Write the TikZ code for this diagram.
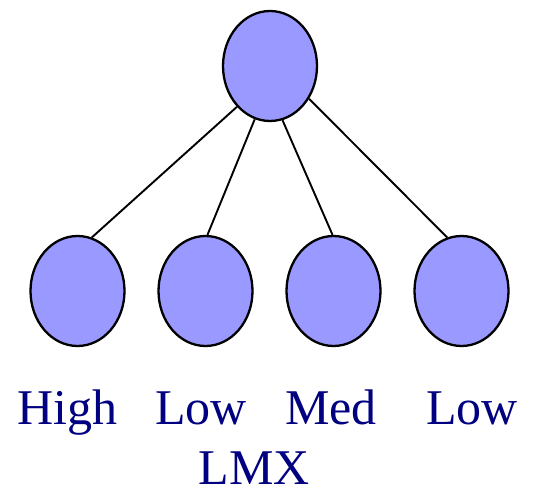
\documentclass[tikz,border=0pt]{standalone}
\usepackage{fontspec}
\setmainfont{Liberation Serif}
\usepackage{tikz}
\usetikzlibrary{shapes.geometric}
\definecolor{bubble}{RGB}{153,153,255}
\definecolor{labelnavy}{RGB}{0,0,128}

\begin{document}
\begin{tikzpicture}[
x=1pt, y=1pt,
MyEllipse/.style={ellipse, draw=black, fill=bubble, line width=2.3pt,
  minimum width=94pt, minimum height=110pt, inner sep=0pt},
MyLinks/.style={draw=black, line width=1.9pt},
MyLabels/.style={anchor=base, text=labelnavy, font=\fontsize{50}{60}\selectfont, inner sep=0pt}
]
\useasboundingbox (0,0) rectangle (553,490);

% top node and the four below it
\node[MyEllipse] (root) at (270,424) {};
\node[MyEllipse] (high) at (77.5,199) {};
\node[MyEllipse] (lowa) at (205.5,199) {};
\node[MyEllipse] (med)  at (333.5,199) {};
\node[MyEllipse] (lowb) at (461.5,199) {};

\foreach \child/\from/\to in {high/231/75, lowa/254/88, med/283/91, lowb/320/105}
  \draw[MyLinks] (root.\from) -- (\child.\to);

% labels
\node[MyLabels] (thigh) at (67,66) {High};
\node[MyLabels] (tlowa) at (201,66) {Low};
\node[MyLabels] (tmed)  at (331,66) {Med};
\node[MyLabels] (tlowb) at (472,66) {Low};
\node[MyLabels] (tlmx)  at (254,6) {LMX};

\end{tikzpicture}
\end{document}
